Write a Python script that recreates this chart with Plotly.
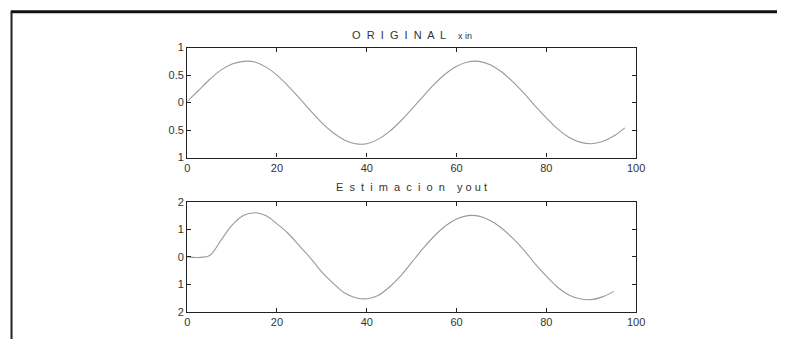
import plotly.graph_objects as go

# --- Données ---
x_xin = [0, 2.5, 5, 7.5, 10, 12.5, 15, 17.5, 20, 22.5, 25, 27.5, 30, 32.5, 35, 37.5, 40,
         42.5, 45, 47.5, 50, 52.5, 55, 57.5, 60, 62.5, 65, 67.5, 70, 72.5, 75, 77.5, 80,
         82.5, 85, 87.5, 90, 92.5, 95, 97.5]
xin = [0.02, 0.22, 0.42, 0.59, 0.70, 0.75, 0.74, 0.65, 0.50, 0.30, 0.08, -0.15, -0.37,
       -0.55, -0.68, -0.75, -0.75, -0.67, -0.53, -0.34, -0.12, 0.11, 0.33, 0.52, 0.66,
       0.74, 0.75, 0.69, 0.56, 0.38, 0.17, -0.06, -0.28, -0.48, -0.63, -0.72, -0.75,
       -0.71, -0.61, -0.46]

x_yout = [0, 2.5, 5, 7.5, 10, 12.5, 15, 17.5, 20, 22.5, 25, 27.5, 30, 32.5, 35, 37.5, 40,
          42.5, 45, 47.5, 50, 52.5, 55, 57.5, 60, 62.5, 65, 67.5, 70, 72.5, 75, 77.5, 80,
          82.5, 85, 87.5, 90, 92.5, 95]
yout = [0.0, -0.02, 0.05, 0.6, 1.15, 1.5, 1.6, 1.5, 1.2, 0.85, 0.4, -0.05, -0.55, -0.95,
        -1.3, -1.48, -1.52, -1.4, -1.1, -0.7, -0.2, 0.3, 0.75, 1.12, 1.38, 1.5, 1.48, 1.32,
        1.05, 0.68, 0.25, -0.25, -0.7, -1.1, -1.38, -1.52, -1.55, -1.45, -1.25]

x_ticks = [0, 20, 40, 60, 80, 100]
y1_ticks = [1, 0.5, 0, -0.5, -1]
y1_labels = ["1", "0.5", "0", "0.5", "1"]
y2_ticks = [2, 1, 0, -1, -2]
y2_labels = ["2", "1", "0", "1", "2"]

titre_haut = "O  R  I  G  I  N  A  L    <span style='font-size:9px'>x in</span>"
titre_bas = "E  s  t  i  m  a  c  i  o  n    y o u t"

LINE = "#9a9a9a"
TXT = "#333333"

fig = go.Figure()
fig.add_trace(go.Scatter(x=x_xin, y=xin, mode="lines", line=dict(color=LINE, width=1.1),
                         xaxis="x", yaxis="y", showlegend=False, line_shape="spline"))
fig.add_trace(go.Scatter(x=x_yout, y=yout, mode="lines", line=dict(color=LINE, width=1.1),
                         xaxis="x2", yaxis="y2", showlegend=False, line_shape="spline"))

axe = dict(showgrid=False, zeroline=False, showline=True, linecolor="#222", linewidth=1.3,
           mirror="allticks", ticks="inside", ticklen=4, tickcolor="#222",
           tickfont=dict(family="Liberation Sans, Arial", size=11, color=TXT))

fig.update_layout(
    width=786, height=345,
    margin=dict(l=0, r=0, t=0, b=0),
    paper_bgcolor="white", plot_bgcolor="white",
    xaxis=dict(axe, domain=[0.238, 0.818], range=[0, 100], tickvals=x_ticks, anchor="y"),
    yaxis=dict(axe, domain=[0.545, 0.875], range=[-1, 1], tickvals=y1_ticks,
               ticktext=y1_labels, anchor="x"),
    xaxis2=dict(axe, domain=[0.238, 0.818], range=[0, 100], tickvals=x_ticks, anchor="y2"),
    yaxis2=dict(axe, domain=[0.081, 0.412], range=[-2, 2], tickvals=y2_ticks,
                ticktext=y2_labels, anchor="x2"),
)

for txt, ypos in [(titre_haut, 0.936), (titre_bas, 0.455)]:
    fig.add_annotation(text=txt, x=0.528, y=ypos, xref="paper", yref="paper",
                       showarrow=False, font=dict(family="Liberation Sans, Arial", size=11, color=TXT))

# cadre de la page scannée
fig.add_shape(type="line", xref="paper", yref="paper", x0=0.01, x1=1, y0=0.983, y1=0.983,
              line=dict(color="#111", width=3))
fig.add_shape(type="line", xref="paper", yref="paper", x0=0.011, x1=0.011, y0=0, y1=0.983,
              line=dict(color="#222", width=2))

fig.write_html("out.html", config={"displayModeBar": False},
               post_script="document.body.style.margin='0';")
